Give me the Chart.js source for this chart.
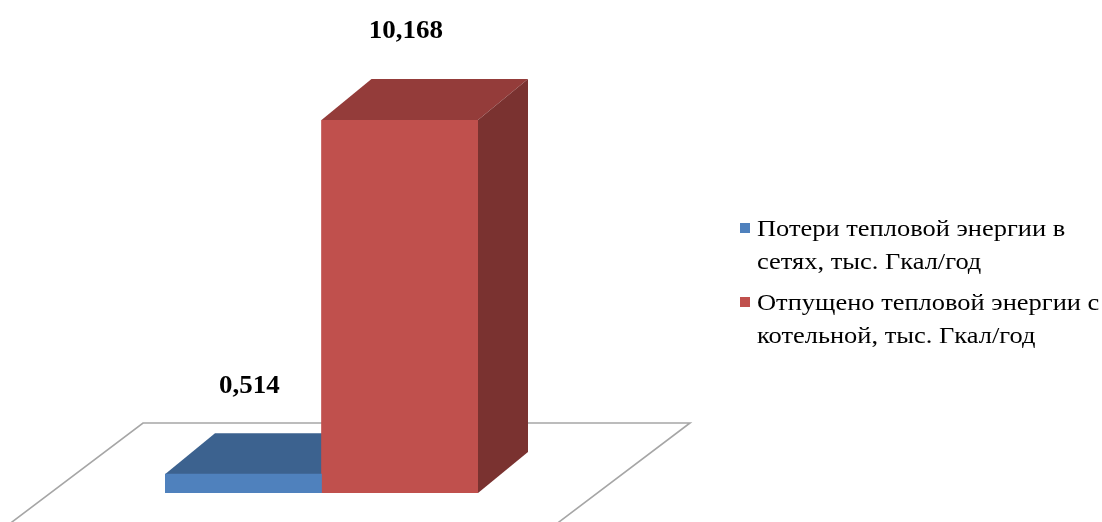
<!DOCTYPE html>
<html><head><meta charset="utf-8">
<script src="https://cdn.jsdelivr.net/npm/chart.js@4/dist/chart.umd.min.js"></script>
<style>
html,body{margin:0;padding:0;background:#fff;}
#wrap{position:relative;width:1102px;height:522px;overflow:hidden;}
canvas{position:absolute;left:0;top:0;}
.leg{position:absolute;font-family:"Liberation Serif","Times New Roman",serif;font-size:23px;line-height:33px;color:#000;white-space:nowrap;transform:scaleX(1.15);transform-origin:0 0;}
.sw{position:absolute;width:10px;height:10px;}
</style></head>
<body><div id="wrap"><canvas id="c" width="1102" height="522"></canvas>
<div class="sw" style="left:740px;top:223px;background:#4F81BD"></div>
<div class="leg" style="left:757px;top:212px">Потери тепловой энергии в<br>сетях, тыс. Гкал/год</div>
<div class="sw" style="left:740px;top:297px;background:#C0504D"></div>
<div class="leg" style="left:757px;top:286px">Отпущено тепловой энергии с<br>котельной, тыс. Гкал/год</div>
</div>
<script>
const categories = [""];
const seriesNames = ["Потери тепловой энергии в сетях, тыс. Гкал/год", "Отпущено тепловой энергии с котельной, тыс. Гкал/год"];
const lossValues = [0.514];
const releasedValues = [10.168];
const valueLabels = ["0,514", "10,168"];

const frontColors = ["#4F81BD", "#C0504D"];
const topColors = ["#3C628F", "#943C3A"];
const sideColors = ["#345578", "#7A3230"];
const DX = 50, DY = -41;

function face(ctx, pts, color){
  ctx.beginPath();
  ctx.moveTo(pts[0][0], pts[0][1]);
  for (let i=1;i<pts.length;i++) ctx.lineTo(pts[i][0], pts[i][1]);
  ctx.closePath();
  ctx.fillStyle = color; ctx.fill();
}
function drawBox3D(chart, di, ctx){
  const meta = chart.getDatasetMeta(di);
  meta.data.forEach(b => {
    const p = b.getProps(['x','y','base','width'], true);
    const l = p.x - p.width/2, r = p.x + p.width/2, t = p.y, bt = p.base;
    face(ctx, [[l,t],[l+DX,t+DY],[r+DX,t+DY],[r,t]], topColors[di]);
    face(ctx, [[r,t],[r+DX,t+DY],[r+DX,bt+DY],[r,bt]], sideColors[di]);
  });
}
const threeD = {
  id: 'threeD',
  beforeDatasetsDraw(chart){
    const ctx = chart.ctx, a = chart.chartArea;
    const yb = chart.scales.y.getPixelForValue(0);
    const backY = yb - 70;
    ctx.save();
    ctx.strokeStyle = '#A6A6A6'; ctx.lineWidth = 1.6;
    ctx.beginPath();
    ctx.moveTo(a.left - 22 - 131*1.2, backY + 99*1.2);
    ctx.lineTo(a.left - 22, backY);
    ctx.lineTo(a.right + 212, backY);
    ctx.lineTo(a.right + 212 - 131*1.2, backY + 99*1.2);
    ctx.stroke();
    drawBox3D(chart, 0, ctx);
    ctx.restore();
  },
  afterDatasetsDraw(chart){
    const ctx = chart.ctx;
    ctx.save();
    drawBox3D(chart, 1, ctx);
    ctx.fillStyle = '#000';
    ctx.font = 'bold 25px "Liberation Serif", "Times New Roman", serif';
    ctx.textAlign = 'center'; ctx.textBaseline = 'middle';
    [0,1].forEach(di => {
      const b = chart.getDatasetMeta(di).data[0];
      ctx.save();
      ctx.translate(b.x + 6, b.y - 88);
      ctx.scale(1.08, 1);
      ctx.fillText(valueLabels[di], 0, 0);
      ctx.restore();
    });
    ctx.restore();
  }
};

new Chart(document.getElementById('c'), {
  type: 'bar',
  data: {
    labels: categories,
    datasets: [
      {label: seriesNames[0], data: lossValues, backgroundColor: frontColors[0], borderWidth: 0},
      {label: seriesNames[1], data: releasedValues, backgroundColor: frontColors[1], borderWidth: 0}
    ]
  },
  options: {
    responsive: false, animation: false,
    layout: {padding: {left: 165, right: 624, top: 120, bottom: 29}},
    plugins: {legend: {display: false}, tooltip: {enabled: false}},
    scales: {
      x: {display: false},
      y: {display: false, min: 0, max: 10.168}
    },
    datasets: {bar: {categoryPercentage: 1, barPercentage: 1}}
  },
  plugins: [threeD]
});
</script></body></html>
